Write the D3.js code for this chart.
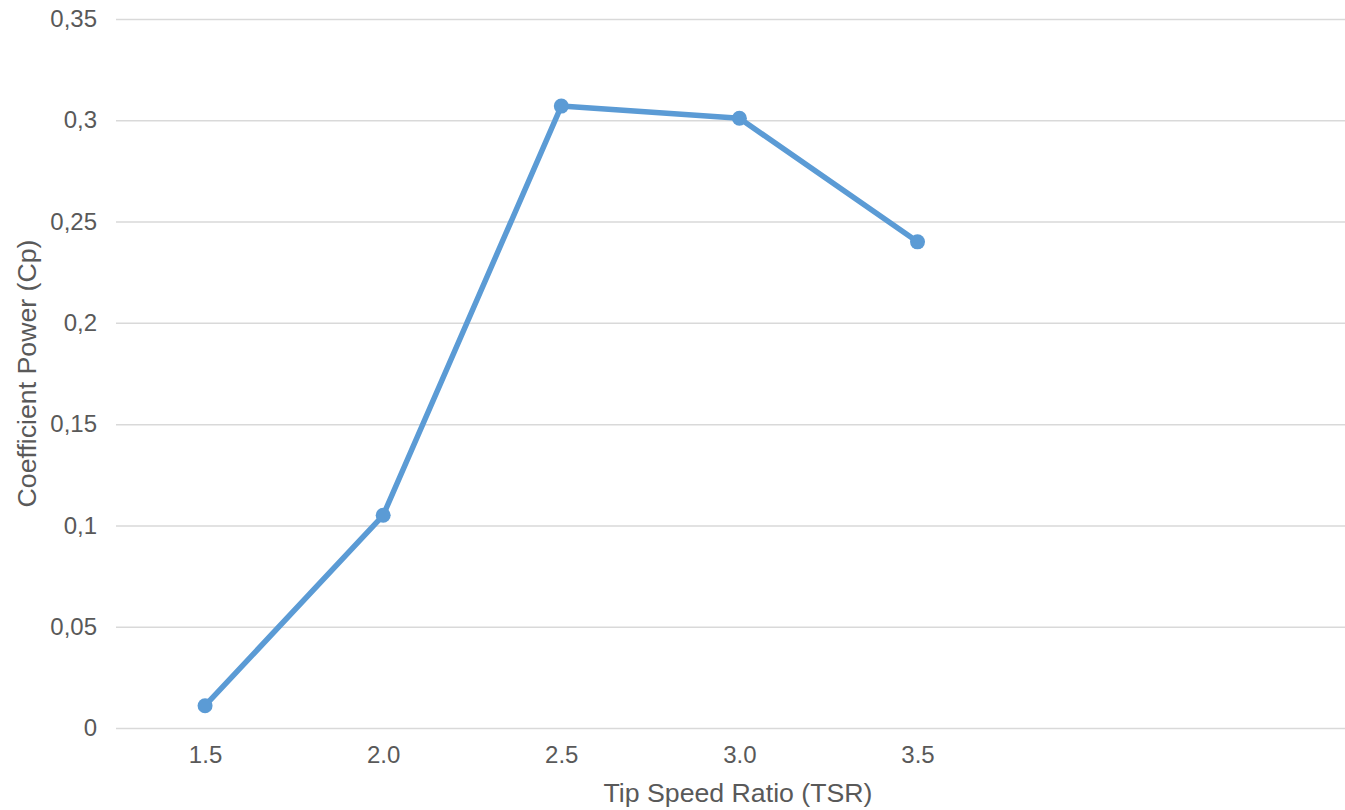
<!DOCTYPE html>
<html>
<head>
<meta charset="utf-8">
<script src="https://cdn.jsdelivr.net/npm/d3@7"></script>
<style>
  html, body { margin: 0; padding: 0; background: #fff; }
  svg { display: block; font-family: "Liberation Sans", Arial, sans-serif; }
</style>
</head>
<body>
<svg id="chart" width="1345" height="810"></svg>
<script>
// Tip speed ratio vs. power coefficient
const tsr = [1.5, 2.0, 2.5, 3.0, 3.5];
const cp = [0.011, 0.105, 0.307, 0.301, 0.240];
const xTickLabels = ["1.5", "2.0", "2.5", "3.0", "3.5"];
const yTicks = [0, 0.05, 0.1, 0.15, 0.2, 0.25, 0.3, 0.35];

const W = 1345, H = 810;
const plot = { left: 116, right: 1345, top: 19, bottom: 728 };

const svg = d3.select("#chart");

const x = d3.scaleLinear().domain([1.25, 4.7]).range([plot.left, plot.right]);
const y = d3.scaleLinear().domain([0, 0.35]).range([plot.bottom, plot.top]);

const fmtY = v => String(+v.toFixed(2)).replace(".", ",");

// horizontal gridlines + y labels
const yAxis = d3.axisLeft(y)
  .tickValues(yTicks)
  .tickSize(-(plot.right - plot.left))
  .tickPadding(19)
  .tickFormat(fmtY);

const gy = svg.append("g")
  .attr("transform", `translate(${plot.left},0)`)
  .call(yAxis);
gy.select(".domain").remove();
gy.selectAll(".tick line").attr("stroke", "#d9d9d9").attr("stroke-width", 1.5);
gy.selectAll(".tick text")
  .attr("fill", "#595959")
  .style("font-size", "24px");

// x labels
const xAxis = d3.axisBottom(x)
  .tickValues(tsr)
  .tickSize(0)
  .tickPadding(18)
  .tickFormat((d, i) => xTickLabels[i]);

const gx = svg.append("g")
  .attr("transform", `translate(0,${plot.bottom})`)
  .call(xAxis);
gx.select(".domain").remove();
gx.selectAll(".tick text")
  .attr("fill", "#595959")
  .style("font-size", "24px");

// axis titles
svg.append("text")
  .attr("x", 738)
  .attr("y", 802)
  .attr("text-anchor", "middle")
  .attr("fill", "#595959")
  .style("font-size", "26.7px")
  .text("Tip Speed Ratio (TSR)");

svg.append("text")
  .attr("transform", `translate(36,${(plot.top + plot.bottom) / 2})rotate(-90)`)
  .attr("text-anchor", "middle")
  .attr("fill", "#595959")
  .style("font-size", "26.7px")
  .text("Coefficient Power (Cp)");

// series line and markers
const pts = tsr.map((t, i) => [t, cp[i]]);
const line = d3.line().x(d => x(d[0])).y(d => y(d[1]));

svg.append("path")
  .datum(pts)
  .attr("d", line)
  .attr("fill", "none")
  .attr("stroke", "#5b9bd5")
  .attr("stroke-width", 5.5)
  .attr("stroke-linejoin", "round")
  .attr("stroke-linecap", "round");

svg.selectAll("circle.pt")
  .data(pts)
  .join("circle")
  .attr("class", "pt")
  .attr("cx", d => x(d[0]))
  .attr("cy", d => y(d[1]))
  .attr("r", 7.5)
  .attr("fill", "#5b9bd5");
</script>
</body>
</html>
